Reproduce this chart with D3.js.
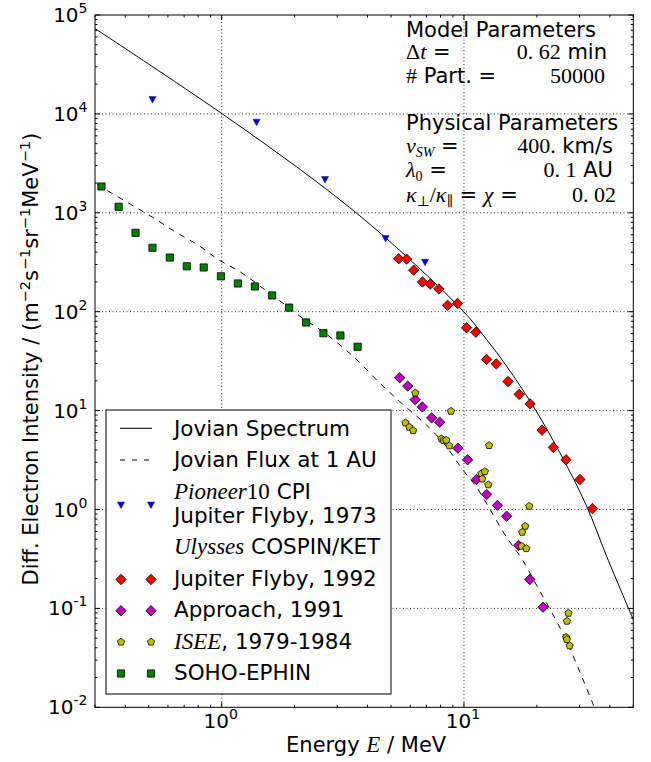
<!DOCTYPE html>
<html><head><meta charset="utf-8">
<script src="https://cdn.jsdelivr.net/npm/d3@7"></script>
<style>
body{margin:0;background:#fff;}
svg{display:block;}
text{font-family:"DejaVu Sans",sans-serif;fill:#000;}
.m{font-family:"Liberation Serif","DejaVu Serif",serif;}
</style></head>
<body><svg id="c" width="651" height="762"></svg>
<script>
// ---- data ----
const jovianSpectrumE = [0.3, 1.0, 2.68, 4.8, 9.94, 12.4, 15.0, 19.3, 24.9, 32.1, 38.8, 50];
const jovianSpectrumI = [73000, 10100, 1760, 546, 101, 52.4, 28.1, 11.1, 3.74, 1.08, 0.337, 0.077];
const jovianFluxE = [0.306, 0.42, 0.523, 0.642, 0.801, 0.968, 1.197, 1.469, 1.822, 2.147, 2.66, 3.54, 4.48, 5.42, 7.2, 8.43, 9.86, 11.2, 12.7, 14.9, 17.4, 20.4, 23.9, 27.1, 34.4];
const jovianFluxI = [1930, 1222, 890, 643, 470, 337, 251, 175, 118, 86.7, 61.2, 34.2, 19.1, 12.4, 6.7, 4.37, 2.54, 1.72, 1.04, 0.537, 0.312, 0.155, 0.0772, 0.0415, 0.0102];
const pioneerE = [0.518, 1.393, 2.67, 4.75, 6.91];
const pioneerI = [14000, 8240, 2170, 550, 317];
const ulyssesFlybyE = [5.38, 5.80, 6.20, 6.74, 7.26, 7.88, 8.56, 9.41, 10.25, 11.2, 12.4, 13.6, 15.2, 16.9, 18.75, 21.0, 23.4, 26.4, 30.1, 33.9];
const ulyssesFlybyI = [343, 340, 263, 200, 190, 170, 116, 121, 68.8, 62, 32.9, 29.7, 19.7, 14.6, 11.7, 6.34, 4.24, 3.18, 2.01, 1.02];
const approachE = [5.43, 5.86, 6.29, 6.73, 7.36, 7.94, 9.44, 10.35, 11.27, 12.4, 13.75, 15.0, 16.8, 18.7, 21.2];
const approachI = [21.5, 17.7, 12.9, 10.9, 8.45, 7.63, 4.17, 3.18, 2.01, 1.42, 1.10, 0.855, 0.433, 0.196, 0.103];
const iseeE = [6.30, 5.73, 5.95, 6.17, 8.84, 8.07, 8.24, 8.45, 8.70, 12.7, 11.8, 12.2, 11.9, 12.6, 18.6, 17.9, 17.4, 17.3, 18.1, 27.0, 26.6, 26.4, 26.6, 27.3];
const iseeI = [15.1, 7.53, 6.79, 6.29, 9.86, 5.19, 4.99, 5.02, 4.41, 4.44, 2.31, 2.42, 2.04, 1.78, 1.08, 0.678, 0.590, 0.426, 0.403, 0.0894, 0.0743, 0.0512, 0.0485, 0.0419];
const sohoE = [0.319, 0.3755, 0.441, 0.518, 0.611, 0.718, 0.843, 0.993, 1.167, 1.371, 1.615, 1.898, 2.23, 2.63, 3.09, 3.64];
const sohoI = [1845, 1150, 628, 443, 353, 288, 280, 228, 193, 180, 146, 110, 77.8, 60.6, 57.5, 44.2];
const xMajorTicks = [1, 10];
const yMajorTicks = [1e-2, 1e-1, 1e0, 1e1, 1e2, 1e3, 1e4, 1e5];
const xTickExp = ["0", "1"];
const yTickExp = ["-2", "-1", "0", "1", "2", "3", "4", "5"];
const legendLabels = ["Jovian Spectrum", "Jovian Flux at 1 AU", "Pioneer10 CPI", "Jupiter Flyby, 1973", "Ulysses COSPIN/KET", "Jupiter Flyby, 1992", "Approach, 1991", "ISEE, 1979-1984", "SOHO-EPHIN"];

// ---- layout ----
const L = 95, R = 633.3, T = 15, B = 707.3;
const svg = d3.select("#c");
const x = d3.scaleLog().domain([0.3, 50]).range([L, R]);
const y = d3.scaleLog().domain([1e-2, 1e5]).range([B, T]);
const zip = (a, b) => a.map((v, i) => [v, b[i]]);

const defs = svg.append("defs");
defs.append("clipPath").attr("id", "clip").append("rect")
  .attr("x", L).attr("y", T).attr("width", R - L).attr("height", B - T);

// grid
const grid = svg.append("g").attr("stroke", "#000").attr("stroke-width", 0.8).attr("stroke-dasharray", "1,2.5");
xMajorTicks.forEach(v => grid.append("line").attr("x1", x(v)).attr("x2", x(v)).attr("y1", T).attr("y2", B));
yMajorTicks.slice(1, -1).forEach(v => grid.append("line").attr("y1", y(v)).attr("y2", y(v)).attr("x1", L).attr("x2", R));

// lines
const plot = svg.append("g").attr("clip-path", "url(#clip)");
const line = d3.line().x(d => x(d[0])).y(d => y(d[1])).curve(d3.curveCatmullRom.alpha(0.5));
plot.append("path").attr("d", line(zip(jovianSpectrumE, jovianSpectrumI)))
  .attr("fill", "none").attr("stroke", "#000").attr("stroke-width", 1);
plot.append("path").attr("d", line(zip(jovianFluxE, jovianFluxI)))
  .attr("fill", "none").attr("stroke", "#000").attr("stroke-width", 1).attr("stroke-dasharray", "6,6");

// markers
const shapes = {
  tri: "M-3.6,-3L3.6,-3L0,3.6Z",
  dia: "M0,-5.2L5.2,0L0,5.2L-5.2,0Z",
  pent: (() => { const r = 3.8; return "M" + d3.range(5).map(i => { const a = -Math.PI / 2 + i * 2 * Math.PI / 5; return [r * Math.cos(a), r * Math.sin(a)].join(","); }).join("L") + "Z"; })(),
  sq: "M-3.6,-3.6L3.6,-3.6L3.6,3.6L-3.6,3.6Z"
};
const series = [
  {E: sohoE, I: sohoI, shape: "sq", fill: "#008000"},
  {E: pioneerE, I: pioneerI, shape: "tri", fill: "#0000ff"},
  {E: ulyssesFlybyE, I: ulyssesFlybyI, shape: "dia", fill: "#ff0000"},
  {E: approachE, I: approachI, shape: "dia", fill: "#bf00bf"},
  {E: iseeE, I: iseeI, shape: "pent", fill: "#bfbf00"}
];
series.forEach(s => {
  plot.append("g").selectAll("path").data(zip(s.E, s.I)).join("path")
    .attr("transform", d => `translate(${x(d[0])},${y(d[1])})`)
    .attr("d", shapes[s.shape]).attr("fill", s.fill)
    .attr("stroke", "#000").attr("stroke-width", s.shape === "tri" ? 0.4 : 0.8);
});

// frame and ticks
const ax = svg.append("g").attr("stroke", "#000").attr("stroke-width", 1);
ax.append("rect").attr("x", L).attr("y", T).attr("width", R - L).attr("height", B - T).attr("fill", "none");
const xAll = [];
[0.1, 1, 10].forEach(d => d3.range(1, 10).forEach(k => { const v = d * k; if (v >= 0.3 && v <= 50) xAll.push(v); }));
xAll.forEach(v => {
  const len = (Math.abs(Math.log10(v) - Math.round(Math.log10(v))) < 1e-9) ? 5 : 2.5;
  ax.append("line").attr("x1", x(v)).attr("x2", x(v)).attr("y1", B).attr("y2", B - len);
  ax.append("line").attr("x1", x(v)).attr("x2", x(v)).attr("y1", T).attr("y2", T + len);
});
const yAll = [];
d3.range(-2, 5).forEach(e => d3.range(1, 10).forEach(k => yAll.push(k * Math.pow(10, e))));
yAll.push(1e5);
yAll.forEach(v => {
  const len = (Math.abs(Math.log10(v) - Math.round(Math.log10(v))) < 1e-9) ? 5 : 2.5;
  ax.append("line").attr("y1", y(v)).attr("y2", y(v)).attr("x1", L).attr("x2", L + len);
  ax.append("line").attr("y1", y(v)).attr("y2", y(v)).attr("x1", R).attr("x2", R - len);
});

// tick labels
yMajorTicks.forEach((v, i) => {
  const t = svg.append("text").attr("x", 87.5).attr("y", y(v) + 7).attr("text-anchor", "end").attr("font-size", 20);
  t.append("tspan").text("10");
  t.append("tspan").attr("dy", -9).attr("font-size", 14).text(yTickExp[i]);
});
xMajorTicks.forEach((v, i) => {
  const t = svg.append("text").attr("x", x(v) - 1).attr("y", 728).attr("text-anchor", "middle").attr("font-size", 20);
  t.append("tspan").text("10");
  t.append("tspan").attr("dy", -9).attr("font-size", 14).text(xTickExp[i]);
});

// axis labels
const xl = svg.append("text").attr("x", (L + R) / 2 + 2).attr("y", 752).attr("text-anchor", "middle").attr("font-size", 21);
xl.append("tspan").text("Energy ");
xl.append("tspan").attr("class", "m").attr("font-style", "italic").attr("font-size", 23).text("E");
xl.append("tspan").text(" / MeV");

const yl = svg.append("text").attr("transform", `translate(38,${(T + B) / 2 - 2}) rotate(-90)`).attr("text-anchor", "middle").attr("font-size", 21);
yl.append("tspan").text("Diff. Electron Intensity / (m");
const sup = (txt) => { yl.append("tspan").attr("dy", -8).attr("font-size", 14.5).text(txt); };
const base = (txt) => { yl.append("tspan").attr("dy", 8).text(txt); };
sup("−2"); base("s"); sup("−1"); base("sr"); sup("−1"); base("MeV"); sup("−1"); base(")");

// parameter text block
const fs = 21;
const tb = svg.append("g").attr("font-size", fs);
function addLine(yy, parts, anchor, xx) {
  const t = tb.append("text").attr("x", xx).attr("y", yy).attr("text-anchor", anchor || "start");
  parts.forEach(p => {
    const s = t.append("tspan").text(p[0]);
    if (p[1]) s.attr("class", "m");
    if (p[2]) s.attr("font-style", "italic");
    if (p[3]) s.attr("font-size", p[3]);
    if (p[4]) s.attr("dy", p[4]);
  });
}
const mf = 22;
addLine(36.7, [["Model Parameters"]], "start", 406);
addLine(59, [["Δ", 1, 0, mf], ["t", 1, 1, mf], [" =", 0]], "start", 406);
addLine(59, [["0. 62", 1, 0, mf], [" min"]], "end", 607);
addLine(82.5, [["#", 1, 0, mf], [" Part. ="]], "start", 406);
addLine(82.5, [["50000", 1, 0, mf]], "end", 605);
addLine(129.5, [["Physical Parameters"]], "start", 406);
addLine(152.5, [["v", 1, 1, mf], ["SW", 1, 1, 14, 4], [" =", 0, 0, null, -4]], "start", 406);
addLine(152.5, [["400.", 1, 0, mf], [" km/s"]], "end", 613);
addLine(176.5, [["λ", 1, 1, mf], ["0", 1, 0, 14, 4], [" =", 0, 0, null, -4]], "start", 406);
addLine(176.5, [["0. 1", 1, 0, mf], [" AU"]], "end", 613);
addLine(201.5, [["κ", 1, 1, mf], ["⊥", 1, 0, 14, 4], ["/", 1, 0, mf, -4], ["κ", 1, 1, mf], ["∥", 1, 0, 14, 4], ["  =  ", 0, 0, null, -4], ["χ", 1, 1, mf], ["  ="]], "start", 406);
addLine(201.5, [["0. 02", 1, 0, mf]], "end", 616);

// legend
const lg = svg.append("g");
lg.append("rect").attr("x", 106).attr("y", 410).attr("width", 285).attr("height", 284)
  .attr("fill", "#fff").attr("stroke", "#000").attr("stroke-width", 1);
lg.append("line").attr("x1", 120).attr("x2", 152).attr("y1", 428.3).attr("y2", 428.3).attr("stroke", "#000");
lg.append("line").attr("x1", 120).attr("x2", 156).attr("y1", 460).attr("y2", 460).attr("stroke", "#000").attr("stroke-dasharray", "5,7");
const lt = (yy, parts) => {
  const t = lg.append("text").attr("x", 174).attr("y", yy).attr("font-size", 21.5);
  parts.forEach(p => { const s = t.append("tspan").text(p[0]); if (p[1]) s.attr("class", "m").attr("font-size", 23); if (p[2]) s.attr("font-style", "italic"); });
};
lt(435.5, [[legendLabels[0]]]);
lt(467, [[legendLabels[1]]]);
lt(498.5, [["Pioneer", 1, 1], ["10", 1, 0], [" CPI"]]);
lt(522.5, [[legendLabels[3]]]);
lt(554, [["Ulysses", 1, 1], [" COSPIN/KET"]]);
lt(585.5, [[legendLabels[5]]]);
lt(617, [[legendLabels[6]]]);
lt(648.5, [["ISEE", 1, 1], [", 1979-1984"]]);
lt(680, [[legendLabels[8]]]);
const lm = (yy, s) => [121, 151].forEach(xx => lg.append("path").attr("transform", `translate(${xx},${yy})`)
  .attr("d", shapes[s.shape]).attr("fill", s.fill).attr("stroke", "#000").attr("stroke-width", s.shape === "tri" ? 0.4 : 0.8));
lm(505, series[1]);
lm(579.5, series[2]);
lm(610.7, series[3]);
lm(642, series[4]);
lm(673.5, series[0]);
</script></body></html>
